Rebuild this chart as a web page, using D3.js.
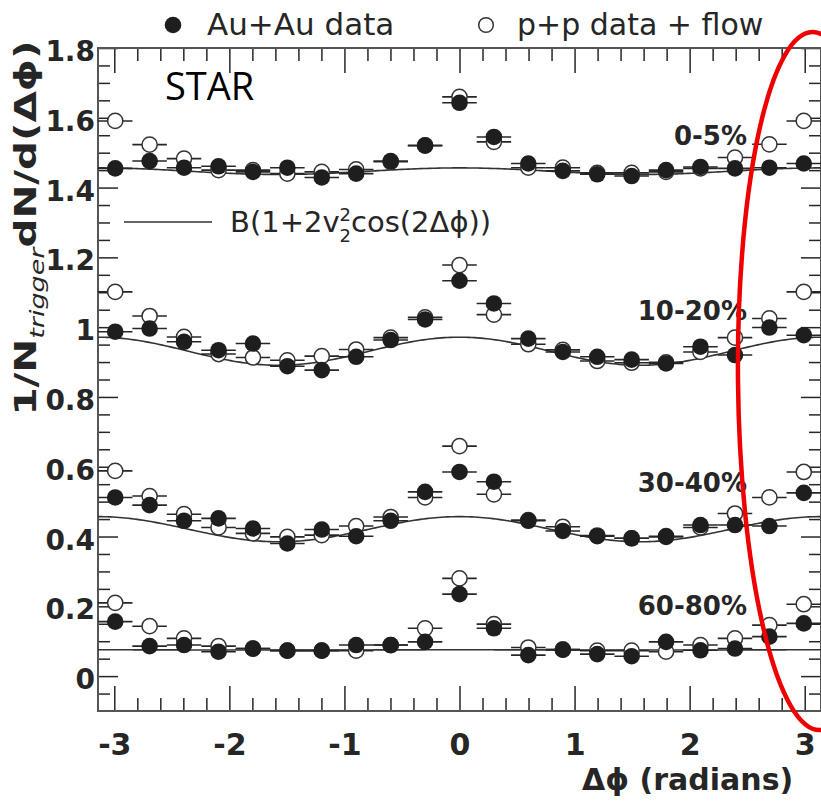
<!DOCTYPE html>
<html>
<head>
<meta charset="utf-8">
<script src="https://cdn.jsdelivr.net/npm/d3@7"></script>
<style>
  body { margin: 0; background: #fff; }
</style>
</head>
<body>
<div id="chart"></div>
<script>
// bin centres (radians)
const dphi = [-2.992, -2.693, -2.394, -2.094, -1.795, -1.496, -1.197, -0.898, -0.598, -0.299, 0,
              0.299, 0.598, 0.898, 1.197, 1.496, 1.795, 2.094, 2.394, 2.693, 2.992];

const centralities = ["0-5%", "10-20%", "30-40%", "60-80%"];

// Au+Au data (filled)
const auau05   = [1.455, 1.476, 1.457, 1.461, 1.445, 1.457, 1.429, 1.440, 1.476, 1.521, 1.643, 1.545, 1.469, 1.448, 1.438, 1.433, 1.450, 1.459, 1.455, 1.457, 1.469];
const auau1020 = [0.987, 0.996, 0.958, 0.934, 0.953, 0.888, 0.877, 0.915, 0.963, 1.022, 1.133, 1.068, 0.967, 0.929, 0.915, 0.907, 0.896, 0.944, 0.920, 0.999, 0.977];
const auau3040 = [0.512, 0.490, 0.445, 0.452, 0.423, 0.380, 0.420, 0.401, 0.445, 0.528, 0.585, 0.557, 0.445, 0.416, 0.401, 0.395, 0.399, 0.433, 0.433, 0.430, 0.525];
const auau6080 = [0.156, 0.086, 0.089, 0.070, 0.079, 0.073, 0.073, 0.089, 0.089, 0.098, 0.235, 0.137, 0.060, 0.076, 0.063, 0.057, 0.098, 0.074, 0.079, 0.113, 0.151];

// p+p data + flow (open)
const pp05   = [1.591, 1.523, 1.483, 1.450, 1.450, 1.440, 1.445, 1.452, 1.474, 1.520, 1.660, 1.531, 1.457, 1.457, 1.442, 1.442, 1.445, 1.455, 1.486, 1.524, 1.591];
const pp1020 = [1.101, 1.032, 0.972, 0.923, 0.913, 0.905, 0.917, 0.936, 0.970, 1.028, 1.178, 1.036, 0.951, 0.935, 0.903, 0.898, 0.899, 0.929, 0.970, 1.025, 1.101];
const pp3040 = [0.588, 0.516, 0.464, 0.426, 0.409, 0.399, 0.404, 0.430, 0.456, 0.512, 0.659, 0.521, 0.447, 0.428, 0.403, 0.395, 0.401, 0.426, 0.466, 0.512, 0.585];
const pp6080 = [0.210, 0.143, 0.108, 0.086, 0.079, 0.073, 0.073, 0.073, 0.089, 0.137, 0.280, 0.149, 0.082, 0.076, 0.073, 0.073, 0.070, 0.089, 0.108, 0.146, 0.206];

// flow background B(1+2v2^2 cos(2dphi)) parameters
const flowB  = [1.447, 0.931, 0.421, 0.075];
const flowV2 = [0.057, 0.147, 0.207, 0.050];

const yTickValues = [0, 0.2, 0.4, 0.6, 0.8, 1, 1.2, 1.4, 1.6, 1.8];
const xTickValues = [-3, -2, -1, 0, 1, 2, 3];

const auauSets = [auau05, auau1020, auau3040, auau6080];
const ppSets = [pp05, pp1020, pp3040, pp6080];

const width = 821, height = 802;
const frame = { left: 98, top: 48, right: 821, bottom: 711 };
const ink = "#262626";
const PHI = "\u03d5";

const svg = d3.select("#chart").append("svg")
    .attr("width", width)
    .attr("height", height)
    .style("background", "#fff");

const x = d3.scaleLinear().domain([-Math.PI, Math.PI]).range([frame.left, frame.right]);
const y = d3.scaleLinear().domain([-0.1, 1.8]).range([frame.bottom, frame.top]);

// Axes: ticks all point inward
const yMinor = d3.range(-0.05, 1.8, 0.05).filter(v => Math.abs(v / 0.2 - Math.round(v / 0.2)) > 1e-6);
const xMinor = d3.range(-3, 3.01, 0.2).filter(v => Math.abs(v - Math.round(v)) > 1e-6);

function styleAxis(g) {
    g.select(".domain").remove();
    g.selectAll(".tick line").attr("stroke", ink).attr("stroke-width", 1.5);
}

svg.append("g").attr("transform", "translate(" + frame.left + ",0)")
    .call(d3.axisLeft(y).tickValues(yMinor).tickSize(-12).tickFormat(""))
    .call(styleAxis);
svg.append("g").attr("transform", "translate(" + frame.right + ",0)")
    .call(d3.axisRight(y).tickValues(yMinor).tickSize(-12).tickFormat(""))
    .call(styleAxis);
svg.append("g").attr("transform", "translate(" + frame.right + ",0)")
    .call(d3.axisRight(y).tickValues(yTickValues).tickSize(-20).tickFormat(""))
    .call(styleAxis);
svg.append("g").attr("transform", "translate(0," + frame.bottom + ")")
    .call(d3.axisBottom(x).tickValues(xMinor).tickSize(-13).tickFormat(""))
    .call(styleAxis);
svg.append("g").attr("transform", "translate(0," + frame.top + ")")
    .call(d3.axisTop(x).tickValues(xMinor).tickSize(-13).tickFormat(""))
    .call(styleAxis);
svg.append("g").attr("transform", "translate(0," + frame.top + ")")
    .call(d3.axisTop(x).tickValues(xTickValues).tickSize(-25).tickFormat(""))
    .call(styleAxis);

// major axes with labels
const yAxis = svg.append("g").attr("transform", "translate(" + frame.left + ",0)")
    .call(d3.axisLeft(y).tickValues(yTickValues).tickSize(-20).tickPadding(3)
        .tickFormat(d => d === 0 ? "0" : String(+d.toFixed(1))))
    .call(styleAxis);
yAxis.selectAll("text")
    .attr("dy", "0.45em")
    .attr("fill", ink)
    .style("font-family", "'DejaVu Sans', sans-serif")
    .style("font-weight", "bold")
    .style("font-size", "28px");

const xAxis = svg.append("g").attr("transform", "translate(0," + frame.bottom + ")")
    .call(d3.axisBottom(x).tickValues(xTickValues).tickSize(-25).tickPadding(23)
        .tickFormat(d => String(d)))
    .call(styleAxis);
xAxis.selectAll("text")
    .attr("fill", ink)
    .style("font-family", "'DejaVu Sans', sans-serif")
    .style("font-weight", "bold")
    .style("font-size", "30px");

// frame
svg.append("rect")
    .attr("x", frame.left).attr("y", frame.top)
    .attr("width", frame.right - frame.left).attr("height", frame.bottom - frame.top)
    .attr("fill", "none").attr("stroke", "#555").attr("stroke-width", 2);

// flow curves
const curveX = d3.range(-Math.PI, Math.PI + 0.001, Math.PI / 120);
const line = d3.line().x(d => x(d[0])).y(d => y(d[1]));
flowB.forEach((b, i) => {
    const v2 = flowV2[i];
    svg.append("path")
        .datum(curveX.map(p => [p, b * (1 + 2 * v2 * v2 * Math.cos(2 * p))]))
        .attr("d", line)
        .attr("fill", "none")
        .attr("stroke", "#333")
        .attr("stroke-width", 1.6);
});

// data points
const halfBin = 0.15;
function drawSeries(values, filled) {
    const g = svg.append("g");
    g.selectAll("line")
        .data(values)
        .enter()
        .append("line")
        .attr("x1", (d, i) => x(dphi[i] - halfBin))
        .attr("x2", (d, i) => x(dphi[i] + halfBin))
        .attr("y1", d => y(d))
        .attr("y2", d => y(d))
        .attr("stroke", ink)
        .attr("stroke-width", 1.6);
    g.selectAll("circle")
        .data(values)
        .enter()
        .append("circle")
        .attr("cx", (d, i) => x(dphi[i]))
        .attr("cy", d => y(d))
        .attr("r", filled ? 8.3 : 7.6)
        .attr("fill", filled ? "#1e1e1e" : "#fff")
        .attr("stroke", filled ? "none" : "#333")
        .attr("stroke-width", 1.5);
}
ppSets.forEach(s => drawSeries(s, false));
auauSets.forEach(s => drawSeries(s, true));

// centrality labels
const labelBase = [145, 320, 492, 615];
svg.selectAll(".cent")
    .data(centralities)
    .enter()
    .append("text")
    .attr("class", "cent")
    .attr("x", 747)
    .attr("y", (d, i) => labelBase[i])
    .attr("text-anchor", "end")
    .attr("fill", ink)
    .style("font-family", "'DejaVu Sans', sans-serif")
    .style("font-weight", "bold")
    .style("font-size", "26px")
    .text(d => d);

// legend on top
svg.append("circle").attr("cx", 173).attr("cy", 25).attr("r", 8.3).attr("fill", "#1e1e1e");
svg.append("text").attr("x", 207).attr("y", 35)
    .attr("fill", ink)
    .style("font-family", "'DejaVu Sans', sans-serif").style("font-size", "31px")
    .text("Au+Au data");
svg.append("circle").attr("cx", 486).attr("cy", 25).attr("r", 7.3)
    .attr("fill", "#fff").attr("stroke", "#333").attr("stroke-width", 1.5);
svg.append("text").attr("x", 517).attr("y", 35)
    .attr("fill", ink)
    .style("font-family", "'DejaVu Sans', sans-serif").style("font-size", "30px")
    .text("p+p data + flow");

// STAR
svg.append("text").attr("x", 165).attr("y", 100)
    .attr("fill", "#000")
    .style("font-family", "'Open Sans', sans-serif").style("font-size", "38px")
    .text("STAR");

// curve legend
svg.append("line").attr("x1", 124).attr("x2", 212).attr("y1", 222).attr("y2", 222)
    .attr("stroke", "#333").attr("stroke-width", 1.6);
const formula = svg.append("text").attr("x", 230).attr("y", 232)
    .attr("fill", ink)
    .style("font-family", "'DejaVu Sans', sans-serif").style("font-size", "29px");
formula.append("tspan").text("B(1+2v");
formula.append("tspan").attr("dy", -11).style("font-size", "18px").text("2");
formula.append("tspan").attr("dx", -11.5).attr("dy", 21).style("font-size", "18px").text("2");
formula.append("tspan").attr("dy", -10).text("cos(2\u0394" + PHI + "))");

// axis titles
svg.append("text").attr("x", 582).attr("y", 790)
    .attr("fill", ink)
    .style("font-family", "'DejaVu Sans', sans-serif").style("font-weight", "bold").style("font-size", "30px")
    .text("\u0394" + PHI + " (radians)");

const yTitle = svg.append("text")
    .attr("transform", "translate(36,228) rotate(-90) scale(1.35,1)")
    .attr("text-anchor", "middle")
    .attr("fill", ink)
    .style("font-family", "'DejaVu Sans', sans-serif").style("font-weight", "bold").style("font-size", "30px");
yTitle.append("tspan").text("1/N");
yTitle.append("tspan").attr("dy", 8).style("font-size", "20px").style("font-style", "italic").style("font-weight", "normal").text("trigger");
yTitle.append("tspan").attr("dy", -8).text("dN/d(\u0394" + PHI + ")");

// red highlight ellipse
svg.append("ellipse")
    .attr("cx", 816).attr("cy", 381)
    .attr("rx", 78).attr("ry", 349)
    .attr("transform", "rotate(-0.6,816,381)")
    .attr("fill", "none")
    .attr("stroke", "#ee0000")
    .attr("stroke-width", 4.5);
</script>
</body>
</html>
